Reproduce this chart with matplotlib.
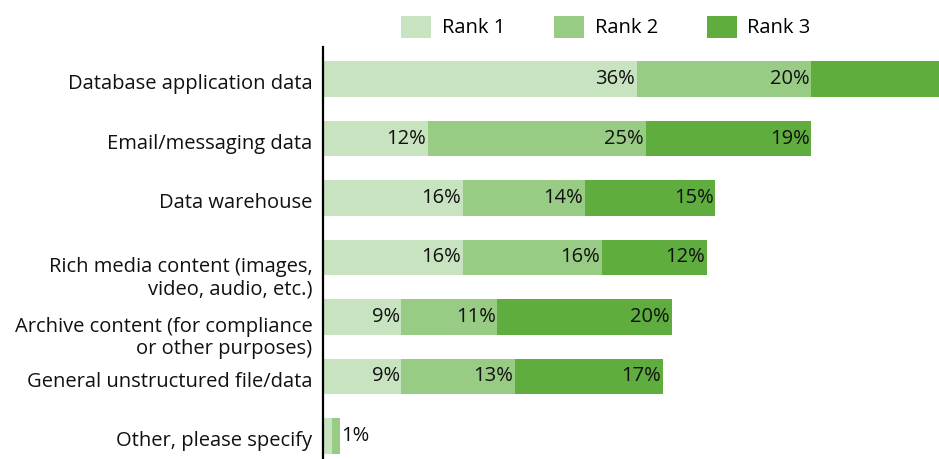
import matplotlib.pyplot as plt
from matplotlib.patches import Patch
from matplotlib.transforms import blended_transform_factory, offset_copy

categories = [
    "Database application data",
    "Email/messaging data",
    "Data warehouse",
    "Rich media content (images,\nvideo, audio, etc.)",
    "Archive content (for compliance\nor other purposes)",
    "General unstructured file/data",
    "Other, please specify",
]
rank1 = [36, 12, 16, 16, 9, 9, 1]
rank2 = [20, 25, 14, 16, 11, 13, 1]
rank3 = [25, 19, 15, 12, 20, 17, 0]
series_names = ["Rank 1", "Rank 2", "Rank 3"]
colors = ["#c8e3bf", "#98cb84", "#5fad3f"]

plt.rcParams['font.family'] = ['Open Sans', 'DejaVu Sans']
FS = 14.5

fig = plt.figure(figsize=(9.39, 4.59), dpi=100)
ax = fig.add_axes([323 / 939, 0, 1 - 323 / 939, 1 - 47 / 459])
xmax = (939 - 323) / 8.72

ypos = list(range(len(categories)))
left = [0] * len(categories)
for vals, name, col in zip([rank1, rank2, rank3], series_names, colors):
    ax.barh(ypos, vals, left=left, height=0.6, color=col, label=name)
    for y, v, l in zip(ypos, vals, left):
        if v == 0:
            continue
        end = l + v
        if categories[y].startswith("Other"):
            # tiny bar: single label outside, after the last segment
            if name == "Rank 2":
                ax.text(end + 0.1, y, f"{v}%", va="center", ha="left",
                        fontsize=FS, color="#111111")
            continue
        if end > xmax:
            continue  # segment runs off the right edge
        ax.text(end - 0.2, y, f"{v}%", va="center", ha="right",
                fontsize=FS, color="#111111")
    left = [a + b for a, b in zip(left, vals)]

ax.set_xlim(0, xmax)
ax.set_ylim(6.39, -0.54)
ax.set_xticks([])
ax.set_yticks([])
for side in ["top", "right", "bottom"]:
    ax.spines[side].set_visible(False)
ax.spines["left"].set_linewidth(1.6)

# category names: first line sits on the bar, wrapped lines hang below
label_trans = blended_transform_factory(ax.transAxes, ax.transData)
for y, cat in zip(ypos, categories):
    dy = -12.5 if "\n" in cat else -2
    tr = offset_copy(label_trans, fig=fig, x=-7.5, y=dy, units="points")
    ax.text(0, y, cat, transform=tr, ha="right", va="center_baseline",
            multialignment="right", fontsize=FS, color="#111111", linespacing=1.15)

handles = [Patch(facecolor=c, label=n) for c, n in zip(colors, series_names)]
fig.legend(handles=handles, ncol=3, loc="center", bbox_to_anchor=(606 / 939, 1 - 27 / 459),
           frameon=False, fontsize=FS, handlelength=1.5, handleheight=1.3,
           handletextpad=0.5, columnspacing=2.45)

fig.savefig("out.png", dpi=100)
